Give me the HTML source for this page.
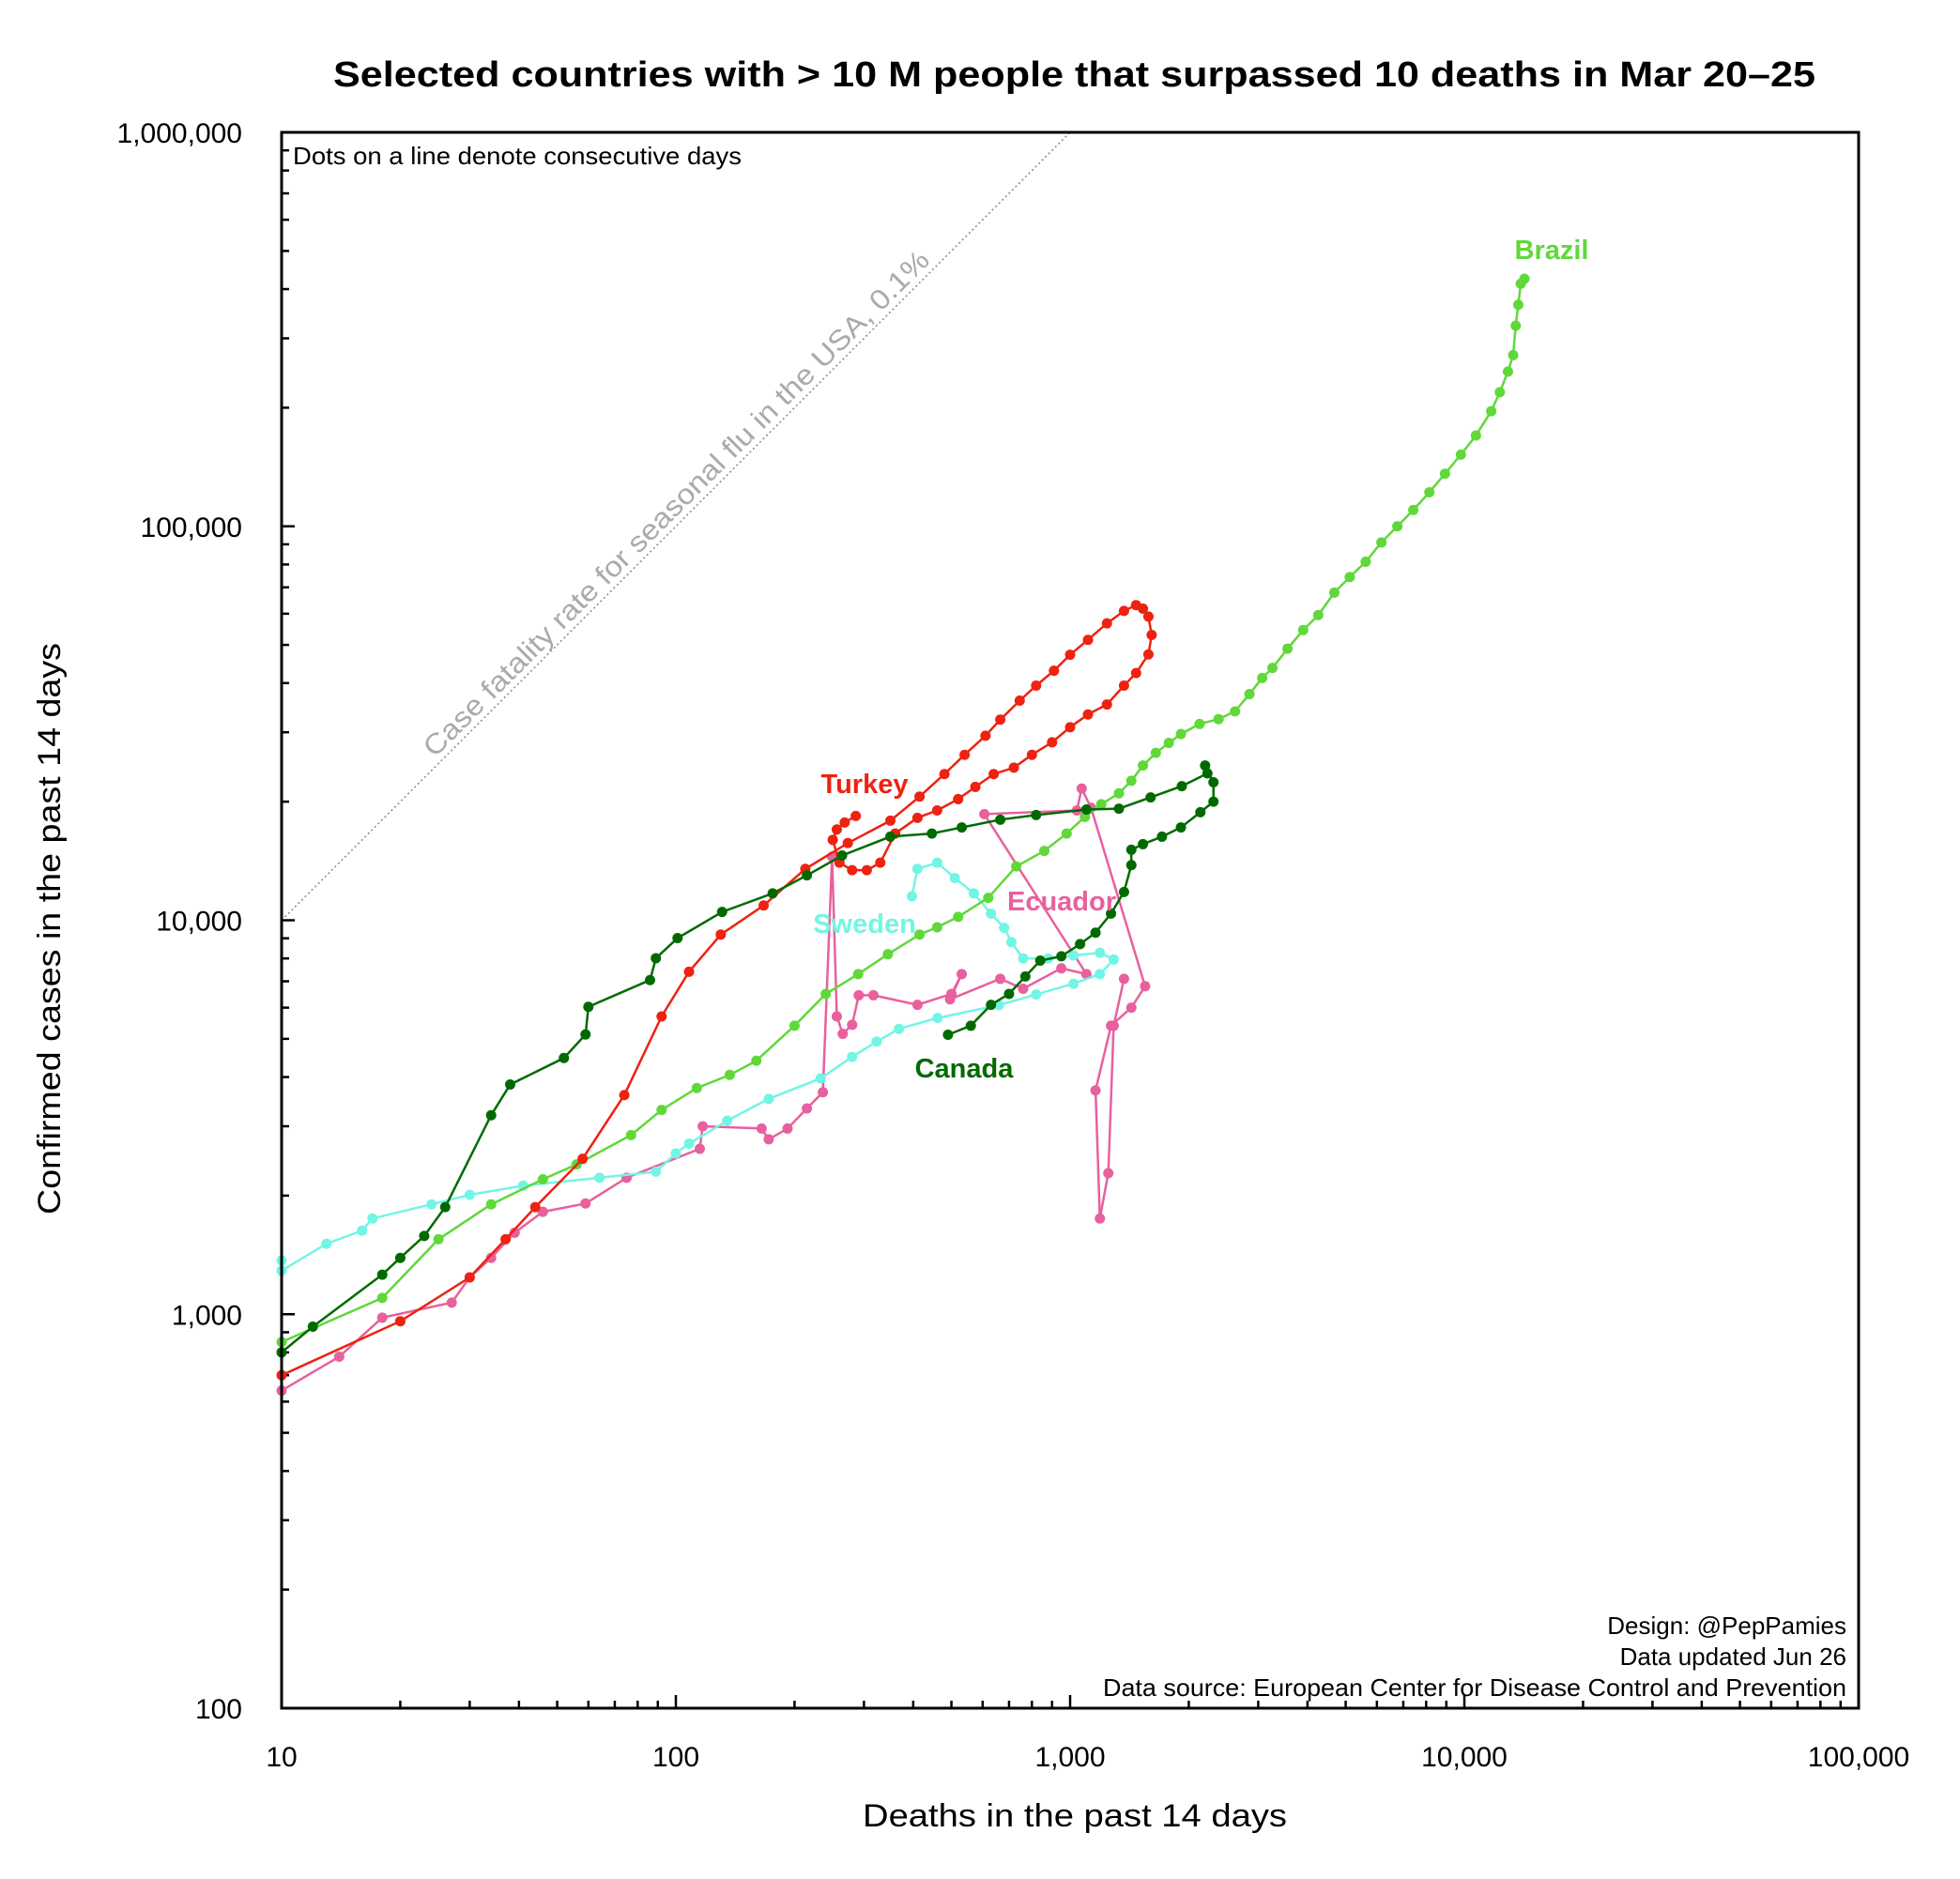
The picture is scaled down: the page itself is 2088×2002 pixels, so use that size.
<!DOCTYPE html>
<html><head><meta charset="utf-8">
<style>
html,body{margin:0;padding:0;background:#fff;}
svg{display:block;font-family:"Liberation Sans",sans-serif;}
</style></head>
<body>
<svg id="chart" width="2088" height="2002" viewBox="0 0 2088 2002" xmlns="http://www.w3.org/2000/svg">
<text x="355" y="92" font-size="38" font-weight="bold" textLength="1579" lengthAdjust="spacingAndGlyphs">Selected countries with &gt; 10 M people that surpassed 10 deaths in Mar 20–25</text>
<g id="axes"></g>
<g id="marks"></g>
<rect x="300" y="141" width="1680" height="1679" fill="none" stroke="#000" stroke-width="3"/>
<text x="312" y="175" font-size="26" textLength="478" lengthAdjust="spacingAndGlyphs">Dots on a line denote consecutive days</text>
<text x="1967" y="1741" font-size="26" text-anchor="end">Design: @PepPamies</text>
<text x="1967" y="1774" font-size="26" text-anchor="end">Data updated Jun 26</text>
<text x="1175" y="1807" font-size="26" textLength="792" lengthAdjust="spacingAndGlyphs">Data source: European Center for Disease Control and Prevention</text>
<text x="919" y="1946" font-size="34" textLength="452" lengthAdjust="spacingAndGlyphs">Deaths in the past 14 days</text>
<text x="64" y="1294" font-size="34" textLength="609" lengthAdjust="spacingAndGlyphs" transform="rotate(-90 64 1294)">Confirmed cases in the past 14 days</text>
</svg>
<script>
const xTicks=[10,100,1000,10000,100000];
const xTickLabels=["10","100","1,000","10,000","100,000"];
const yTicks=[100,1000,10000,100000,1000000];
const yTickLabels=["100","1,000","10,000","100,000","1,000,000"];
const fluDeaths=[10,1000];
const fluCases=[10000,1000000];

const brazilDeaths=[10,18,25,34,46,56,77,92,113,137,160,200,240,290,345,415,460,520,620,730,860,980,1090,1200,1330,1430,1530,1650,1780,1910,2130,2380,2620,2850,3070,3260,3560,3900,4260,4680,5120,5620,6160,6760,7420,8150,8930,9800,10700,11700,12300,12900,13300,13500,13700,13900,14200];
const brazilCases=[850,1100,1550,1900,2200,2400,2850,3300,3750,4050,4400,5400,6500,7300,8200,9200,9600,10200,11400,13700,15000,16600,18300,19700,21000,22600,24700,26600,28200,29700,31500,32400,33900,37500,41200,43700,48900,54500,59500,67900,74300,81300,91000,100000,110000,122000,136000,152000,170000,196000,219000,247000,272000,323000,365000,413000,425000];

const turkeyDeaths=[10,20,30,37,44,58,74,92,108,130,167,213,273,350,415,480,540,610,665,745,820,910,1000,1110,1240,1370,1470,1530,1580,1610,1580,1470,1370,1240,1110,1000,900,800,720,640,575,520,460,410,360,330,305,280,260,250,256,268,286];
const turkeyCases=[700,960,1240,1550,1870,2480,3600,5700,7400,9200,10900,13500,15700,17900,20600,23500,26300,29400,32300,36100,39400,43000,47200,51500,56700,61000,63100,61800,59000,53000,47300,42400,39400,35300,33300,30900,28300,26300,24400,23500,21800,20300,19000,18200,16600,14000,13400,13400,14000,16000,17000,17700,18400];

const canadaDeaths=[10,12,18,20,23,26,34,38,52,59,60,86,89,101,131,176,215,264,350,446,531,665,820,1100,1330,1600,1920,2230,2200,2310,2310,2140,1910,1710,1530,1430,1430,1370,1270,1160,1060,950,840,770,700,630,560,490];
const canadaCases=[800,930,1260,1390,1580,1870,3200,3830,4470,5130,6030,7050,8010,9010,10500,11700,13000,14600,16300,16600,17200,18000,18500,19100,19200,20500,21900,23600,24700,22400,20000,18800,17200,16300,15600,15100,13800,11800,10400,9300,8700,8100,7900,7200,6500,6100,5400,5120];

const swedenDeaths=[10,10,13,16,17,24,30,41,64,89,100,108,135,172,233,280,323,368,461,660,820,1020,1190,1290,1190,1020,880,760,710,680,630,570,510,460,410,397];
const swedenCases=[1370,1290,1510,1630,1750,1900,2010,2120,2220,2300,2560,2710,3100,3520,3970,4500,4920,5300,5650,6090,6480,6900,7300,7950,8270,8140,8000,8000,8800,9570,10400,11700,12800,14000,13500,11500];

const ecuadorDeaths=[10,14,18,27,30,34,39,46,59,75,115,117,165,172,192,215,236,249,256,265,280,291,317,410,500,531,496,665,760,950,1100,606,1040,1070,1130,1550,1430,1270,1160,1190,1250,1290,1370];
const ecuadorCases=[640,780,980,1070,1240,1390,1610,1820,1910,2220,2630,3000,2960,2780,2960,3330,3660,14500,5700,5150,5430,6450,6450,6100,6500,7300,6300,7100,6700,7550,7300,18600,19000,21600,19300,6800,6000,5400,3700,1750,2280,5400,7100];

const NS="http://www.w3.org/2000/svg";
const X0=300,X1=1980,Y0=1820,Y1=141;
function xs(v){return X0+(Math.log10(v)-1)/4*(X1-X0);}
function ys(v){return Y0-(Math.log10(v)-2)/4*(Y0-Y1);}
function mk(tag,attrs,parent){const e=document.createElementNS(NS,tag);for(const k in attrs)e.setAttribute(k,attrs[k]);parent.appendChild(e);return e;}
const axes=document.getElementById('axes');
const marks=document.getElementById('marks');

for(let d=1;d<5;d++){
  for(let m=1;m<10;m++){
    const vx=Math.pow(10,d)*m;
    const px=xs(vx);
    const len=m===1?14:8;
    const tx=mk('line',{x1:px,x2:px,y1:Y0,y2:Y0-len,stroke:'#000','stroke-width':2.5},axes);
    
    
    const vy=Math.pow(10,d+1)*m;
    const py=ys(vy);
    const ty=mk('line',{x1:X0,x2:X0+len,y1:py,y2:py,stroke:'#000','stroke-width':2.5},axes);
    
    
  }
}
xTicks.forEach((v,i)=>{
  const t=mk('text',{x:xs(v),y:1882,'text-anchor':'middle','font-size':30},axes);
  t.textContent=xTickLabels[i];
  
  
});
yTicks.forEach((v,i)=>{
  const t=mk('text',{x:258,y:ys(v)+11,'text-anchor':'end','font-size':30},axes);
  t.textContent=yTickLabels[i];
  
  
});

const fl=mk('line',{x1:xs(fluDeaths[0]),y1:ys(fluCases[0]),x2:xs(fluDeaths[1]),y2:ys(fluCases[1]),stroke:'#888','stroke-width':1.5,'stroke-dasharray':'2 3'},marks);


const fx=463,fy=808;
const ft=mk('text',{x:fx,y:fy,'font-size':30,fill:'#aaa',textLength:748,lengthAdjust:'spacingAndGlyphs',transform:'rotate(-45 '+fx+' '+fy+')'},marks);
ft.textContent='Case fatality rate for seasonal flu in the USA, 0.1%';



function series(name,dx,dy,color){
  const g=mk('g',{},marks);
  
  
  const pts=dx.map((d,i)=>xs(d).toFixed(1)+','+ys(dy[i]).toFixed(1)).join(' ');
  const pl=mk('polyline',{points:pts,fill:'none',stroke:color,'stroke-width':2.5},g);
  
  
  dx.forEach((d,i)=>{
    const c=mk('circle',{cx:xs(d),cy:ys(dy[i]),r:5.5,fill:color},g);
    
    
  });
}
series('ecuador',ecuadorDeaths,ecuadorCases,'#e8609e');
series('sweden',swedenDeaths,swedenCases,'#72f5e4');
series('brazil',brazilDeaths,brazilCases,'#60d83a');
series('turkey',turkeyDeaths,turkeyCases,'#ee2211');
series('canada',canadaDeaths,canadaCases,'#006a00');

function label(txt,x,y,color,name){
  const t=mk('text',{x:x,y:y,'text-anchor':'middle','font-size':29,'font-weight':'bold',fill:color},marks);
  t.textContent=txt;
  
  
}
label('Brazil',1653,276,'#60d83a','brazil-label');
label('Turkey',921,845,'#ee2211','turkey-label');
label('Ecuador',1131,970,'#e8609e','ecuador-label');
label('Sweden',921,994,'#72f5e4','sweden-label');
label('Canada',1027,1148,'#006a00','canada-label');
</script>
</body></html>
